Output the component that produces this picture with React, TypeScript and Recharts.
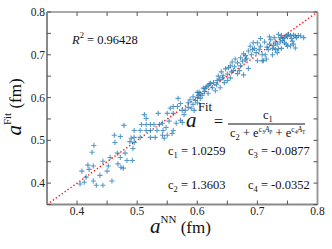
import { ReferenceLine, Scatter, ScatterChart, XAxis, YAxis } from 'recharts';

// a^NN (x) against a^Fit (y), in fm
const aNN = [
  0.405, 0.408, 0.412, 0.415, 0.418, 0.42, 0.425, 0.427, 0.427, 0.428, 0.432, 0.438, 0.443, 0.443, 0.45, 0.455,
  0.458, 0.462, 0.463, 0.467, 0.472, 0.472, 0.473, 0.477, 0.478, 0.483, 0.488, 0.492, 0.493, 0.495, 0.495, 0.495,
  0.505, 0.505, 0.468, 0.452, 0.48, 0.49,
  0.507, 0.512, 0.515, 0.515, 0.515, 0.522, 0.522, 0.528, 0.533, 0.537, 0.535, 0.542, 0.543, 0.542, 0.55, 0.55,
  0.558, 0.56, 0.56, 0.555, 0.522, 0.53, 0.545, 0.548, 0.553, 0.565,
  0.568, 0.56, 0.567, 0.572, 0.575, 0.58, 0.585, 0.593, 0.597, 0.6, 0.593, 0.602, 0.572, 0.575, 0.578, 0.585,
  0.59, 0.595, 0.588, 0.6, 0.605, 0.603, 0.608, 0.61, 0.612, 0.615, 0.618, 0.62, 0.613, 0.618, 0.625, 0.622,
  0.627, 0.633, 0.63, 0.638, 0.6, 0.605,
  0.642, 0.643, 0.647, 0.655, 0.66, 0.65, 0.655, 0.667, 0.667, 0.672, 0.672, 0.677, 0.68, 0.685, 0.685, 0.64,
  0.65, 0.645, 0.635, 0.658, 0.663, 0.675, 0.68, 0.69, 0.692, 0.688, 0.695, 0.7, 0.708, 0.698, 0.677, 0.652,
  0.657, 0.662, 0.637, 0.632, 0.67, 0.682,
  0.693, 0.7, 0.705, 0.71, 0.713, 0.718, 0.72, 0.722, 0.725, 0.728, 0.73, 0.733, 0.735, 0.733, 0.738, 0.74,
  0.742, 0.745, 0.748, 0.75, 0.752, 0.755, 0.755, 0.758, 0.76, 0.76, 0.763, 0.763, 0.765, 0.772, 0.745, 0.75,
  0.74, 0.715, 0.725, 0.73, 0.712, 0.705, 0.72, 0.735, 0.777, 0.748, 0.703, 0.708, 0.716, 0.727, 0.743, 0.757,
  0.768, 0.738,
];
const aFit = [
  0.398, 0.428, 0.402, 0.414, 0.442, 0.432, 0.472, 0.405, 0.44, 0.488, 0.395, 0.418, 0.395, 0.451, 0.428, 0.46,
  0.405, 0.512, 0.495, 0.47, 0.509, 0.46, 0.437, 0.435, 0.535, 0.453, 0.497, 0.453, 0.481, 0.495, 0.523, 0.507,
  0.507, 0.523, 0.445, 0.44, 0.47, 0.505,
  0.537, 0.56, 0.551, 0.537, 0.523, 0.537, 0.523, 0.537, 0.523, 0.537, 0.563, 0.54, 0.523, 0.512, 0.512, 0.563,
  0.516, 0.523, 0.563, 0.575, 0.507, 0.507, 0.505, 0.53, 0.545, 0.54,
  0.598, 0.579, 0.579, 0.547, 0.57, 0.57, 0.577, 0.584, 0.593, 0.6, 0.602, 0.605, 0.586, 0.542, 0.56, 0.588,
  0.575, 0.57, 0.595, 0.588, 0.598, 0.612, 0.605, 0.622, 0.614, 0.625, 0.61, 0.632, 0.621, 0.628, 0.623, 0.633,
  0.635, 0.64, 0.616, 0.623, 0.612, 0.609,
  0.646, 0.651, 0.667, 0.674, 0.663, 0.64, 0.646, 0.656, 0.681, 0.674, 0.693, 0.702, 0.698, 0.709, 0.668, 0.66,
  0.655, 0.635, 0.65, 0.683, 0.69, 0.685, 0.688, 0.7, 0.712, 0.72, 0.715, 0.686, 0.686, 0.705, 0.653, 0.67,
  0.66, 0.672, 0.642, 0.63, 0.663, 0.692,
  0.728, 0.728, 0.72, 0.686, 0.7, 0.712, 0.725, 0.735, 0.715, 0.74, 0.73, 0.725, 0.714, 0.705, 0.74, 0.745,
  0.733, 0.74, 0.745, 0.742, 0.748, 0.745, 0.721, 0.732, 0.725, 0.746, 0.744, 0.716, 0.74, 0.744, 0.728, 0.72,
  0.715, 0.69, 0.7, 0.712, 0.73, 0.738, 0.742, 0.748, 0.74, 0.725, 0.712, 0.7, 0.718, 0.722, 0.738, 0.738,
  0.745, 0.73,
];

const AXIS_TICKS = [0.35, 0.4, 0.45, 0.5, 0.55, 0.6, 0.65, 0.7, 0.75, 0.8];
const DIAG = [0.35, 0.8];

const R2 = '0.96428';
const C1 = '1.0259';
const C2 = '1.3603';
const C3 = '-0.0877';
const C4 = '-0.0352';

// no serif face seems to be on the box, so fall back to the narrower Liberation Sans
const FONT = "'Liberation Serif', 'Liberation Sans', Arial, sans-serif";
const BLUE = '#1f77b4';

const points = aNN.map((x, i) => ({ x, y: aFit[i] }));

// only the tenths get a label, and not the corner 0.35
const tenths = (v: number) => {
  const k = Math.round(v * 100);
  return k % 10 === 0 && k > 35 ? (k / 100).toFixed(1) : '';
};

function Plus(props: any) {
  const { cx, cy } = props;
  if (cx == null || cy == null) return null;
  const r = 2.6;
  return (
    <path
      d={`M${cx - r},${cy}H${cx + r}M${cx},${cy - r}V${cy + r}`}
      stroke={BLUE}
      strokeWidth={1.1}
      strokeOpacity={0.75}
      fill="none"
    />
  );
}

const tickStyle = { fill: '#222', fontSize: 11.5, style: { fontFamily: FONT } };

export default function App() {
  return (
    <div style={{ position: 'fixed', left: 0, top: 0, width: 332, height: 249, background: '#fff', fontFamily: FONT }}>
      <ScatterChart width={332} height={249} margin={{ top: 10, right: 12.5, bottom: 14.5, left: 7 }} style={{ fontFamily: FONT }}>
        <XAxis
          xAxisId="b"
          type="number"
          dataKey="x"
          domain={[0.35, 0.8]}
          ticks={AXIS_TICKS}
          allowDataOverflow
          height={30}
          tickSize={-4}
          tickMargin={6}
          tickFormatter={tenths}
          tick={tickStyle}
          axisLine={{ stroke: '#8a8a8a', strokeWidth: 2 }}
          tickLine={{ stroke: '#555' }}
        />
        <XAxis
          xAxisId="t"
          orientation="top"
          type="number"
          dataKey="x"
          domain={[0.35, 0.8]}
          ticks={AXIS_TICKS}
          allowDataOverflow
          height={2}
          tickSize={-4}
          tickFormatter={() => ''}
          axisLine={{ stroke: '#555', strokeWidth: 1 }}
          tickLine={{ stroke: '#555' }}
        />
        <YAxis
          yAxisId="l"
          type="number"
          dataKey="y"
          domain={[0.35, 0.8]}
          ticks={AXIS_TICKS}
          allowDataOverflow
          width={40}
          tickSize={-4}
          tickMargin={6}
          tickFormatter={tenths}
          tick={tickStyle}
          axisLine={{ stroke: '#8a8a8a', strokeWidth: 2 }}
          tickLine={{ stroke: '#555' }}
        />
        <YAxis
          yAxisId="r"
          orientation="right"
          type="number"
          dataKey="y"
          domain={[0.35, 0.8]}
          ticks={AXIS_TICKS}
          allowDataOverflow
          width={2}
          tickSize={-4}
          tickFormatter={() => ''}
          axisLine={{ stroke: '#9a9a9a', strokeWidth: 2 }}
          tickLine={{ stroke: '#555' }}
        />
        <Scatter xAxisId="b" yAxisId="l" data={points} shape={Plus} isAnimationActive={false} />
        <ReferenceLine
          xAxisId="b"
          yAxisId="l"
          segment={[
            { x: DIAG[0], y: DIAG[0] },
            { x: DIAG[1], y: DIAG[1] },
          ]}
          stroke="#ff1a1a"
          strokeWidth={1.4}
          strokeDasharray="1.4 2.2"
        />
      </ScatterChart>

      {/* labels, R^2 and the fit formula */}
      <svg
        width={332}
        height={249}
        style={{ position: 'absolute', left: 0, top: 0, pointerEvents: 'none', fontFamily: FONT }}
        fill="#111"
      >
        <text x={72} y={44} fontSize={12.5}>
          <tspan fontStyle="italic">R</tspan>
          <tspan fontSize={8.5} dy={-6}>2</tspan>
          <tspan dy={6}>{` = ${R2}`}</tspan>
        </text>

        <text x={186} y={127} fontSize={21} fontStyle="italic">a</text>
        <text x={198} y={111} fontSize={12.5}>Fit</text>
        <text x={214} y={127} fontSize={16}>=</text>
        <line x1={228} x2={305} y1={124} y2={124} stroke="#111" strokeWidth={1} />
        <text x={263} y={119} fontSize={12.5}>
          c<tspan fontSize={8.5} dy={3}>1</tspan>
        </text>
        <text x={230} y={137} fontSize={12.5}>
          c<tspan fontSize={8.5} dy={3}>2</tspan>
          <tspan dy={-3}> + e</tspan>
          <tspan fontSize={7.5} dy={-5}>c</tspan>
          <tspan fontSize={5.5} dy={2}>3</tspan>
          <tspan fontSize={7.5} dy={-2} fontStyle="italic">A</tspan>
          <tspan fontSize={5.5} dy={2}>P</tspan>
          <tspan dy={3}> + e</tspan>
          <tspan fontSize={7.5} dy={-5}>c</tspan>
          <tspan fontSize={5.5} dy={2}>4</tspan>
          <tspan fontSize={7.5} dy={-2} fontStyle="italic">A</tspan>
          <tspan fontSize={5.5} dy={2}>T</tspan>
        </text>

        <text x={168} y={155} fontSize={12.5}>
          c<tspan fontSize={8.5} dy={3}>1</tspan>
          <tspan dy={-3}>{` = ${C1}`}</tspan>
        </text>
        <text x={248} y={155} fontSize={12.5}>
          c<tspan fontSize={8.5} dy={3}>3</tspan>
          <tspan dy={-3}>{` = ${C3}`}</tspan>
        </text>
        <text x={168} y={189} fontSize={12.5}>
          c<tspan fontSize={8.5} dy={3}>2</tspan>
          <tspan dy={-3}>{` = ${C2}`}</tspan>
        </text>
        <text x={248} y={189} fontSize={12.5}>
          c<tspan fontSize={8.5} dy={3}>4</tspan>
          <tspan dy={-3}>{` = ${C4}`}</tspan>
        </text>

        <text x={150} y={233} fontSize={17}>
          <tspan fontStyle="italic" fontSize={21}>a</tspan>
          <tspan fontSize={11} dy={-10}>NN</tspan>
          <tspan dy={10}> (fm)</tspan>
        </text>
        <text transform="translate(21,107) rotate(-90)" fontSize={17} textAnchor="middle">
          <tspan fontStyle="italic" fontSize={21}>a</tspan>
          <tspan fontSize={11} dy={-10}>Fit</tspan>
          <tspan dy={10}> (fm)</tspan>
        </text>
      </svg>
    </div>
  );
}
